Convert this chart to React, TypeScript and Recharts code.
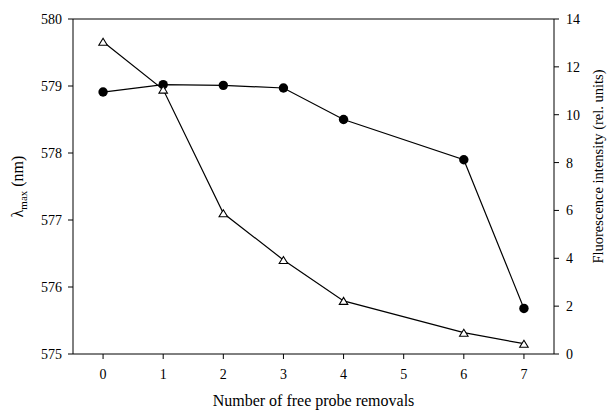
import { LineChart, Line, XAxis, YAxis, ReferenceLine } from 'recharts';

// x positions (number of removals) - no measurement at 5
const removals = [0, 1, 2, 3, 4, 6, 7];
// emission maximum, nm (left axis, filled circles)
const lambdaMax = [578.91, 579.02, 579.01, 578.97, 578.5, 577.9, 575.68];
// fluorescence intensity, rel. units (right axis, open triangles)
const fluorescence = [13.05, 11.05, 5.88, 3.93, 2.22, 0.89, 0.43];

const xTicks = [0, 1, 2, 3, 4, 5, 6, 7];
const leftTicks = [575, 576, 577, 578, 579, 580];
const rightTicks = [0, 2, 4, 6, 8, 10, 12, 14];

const lambdaData = removals.map((x, i) => ({ x, v: lambdaMax[i] }));
const fluorData = removals.map((x, i) => ({ x, v: fluorescence[i] }));

const FONT = '"Liberation Serif", "Times New Roman", serif';
const tickStyle = { fill: '#000', fontSize: 14, fontFamily: FONT };

function CircleDot(props: any) {
	const { cx, cy } = props;
	if (cx == null || cy == null) return null;
	return <circle cx={cx} cy={cy} r={4.7} fill="#000" />;
}

function TriangleDot(props: any) {
	const { cx, cy } = props;
	if (cx == null || cy == null) return null;
	const h = 7;
	const w = 8.5;
	const pts = `${cx - w / 2},${cy + h / 2} ${cx + w / 2},${cy + h / 2} ${cx},${cy - h / 2}`;
	return <polygon points={pts} fill="#fff" stroke="#000" strokeWidth={1.1} />;
}

const leftTitle = ({ viewBox }: any) => {
	const x = viewBox.x + 17;
	const y = viewBox.y + viewBox.height / 2;
	return (
		<text x={x} y={y} dy="0.35em" transform={`rotate(-90 ${x} ${y})`} textAnchor="middle"
			fontFamily={FONT} fontSize={16} fill="#000">
			λ<tspan fontSize={11} dy={4}>max</tspan><tspan dy={-4}> (nm)</tspan>
		</text>
	);
};

const rightTitle = ({ viewBox }: any) => {
	const x = viewBox.x + 44;
	const y = viewBox.y + viewBox.height / 2 - 20;
	return (
		<text x={x} y={y} dy="0.35em" transform={`rotate(-90 ${x} ${y})`} textAnchor="middle"
			fontFamily={FONT} fontSize={14.5} fill="#000">
			Fluorescence intensity (rel. units)
		</text>
	);
};

const bottomTitle = ({ viewBox }: any) => (
	<text x={viewBox.x + viewBox.width / 2} y={viewBox.y + 52} textAnchor="middle"
		fontFamily={FONT} fontSize={16} fill="#000">
		Number of free probe removals
	</text>
);

export default function App() {
	return (
		<div style={{ position: 'absolute', left: 0, top: 0, background: '#fff' }}>
			<LineChart width={608} height={411} margin={{ top: 19, right: 0, bottom: 0, left: 0 }}>
				<XAxis
					dataKey="x"
					type="number"
					domain={[-0.5, 7.5]}
					ticks={xTicks}
					allowDataOverflow
					height={57}
					stroke="#000"
					tickSize={5}
					tickMargin={10}
					tick={tickStyle}
					label={{ content: bottomTitle }}
				/>
				<YAxis
					yAxisId="left"
					domain={[575, 580]}
					ticks={leftTicks}
					allowDataOverflow
					width={73}
					stroke="#000"
					tickSize={5}
					tickMargin={6}
					tick={tickStyle}
					label={{ content: leftTitle }}
				/>
				<YAxis
					yAxisId="right"
					orientation="right"
					domain={[0, 14]}
					ticks={rightTicks}
					allowDataOverflow
					width={54}
					stroke="#000"
					tickSize={5}
					tickMargin={7}
					tick={tickStyle}
					label={{ content: rightTitle }}
				/>
				<ReferenceLine yAxisId="left" y={580} stroke="#000" />
				<Line
					yAxisId="left"
					data={lambdaData}
					dataKey="v"
					stroke="#000"
					strokeWidth={1.2}
					dot={(p: any) => <CircleDot key={`c${p.index}`} {...p} />}
					isAnimationActive={false}
				/>
				<Line
					yAxisId="right"
					data={fluorData}
					dataKey="v"
					stroke="#000"
					strokeWidth={1.2}
					dot={(p: any) => <TriangleDot key={`t${p.index}`} {...p} />}
					isAnimationActive={false}
				/>
			</LineChart>
		</div>
	);
}
